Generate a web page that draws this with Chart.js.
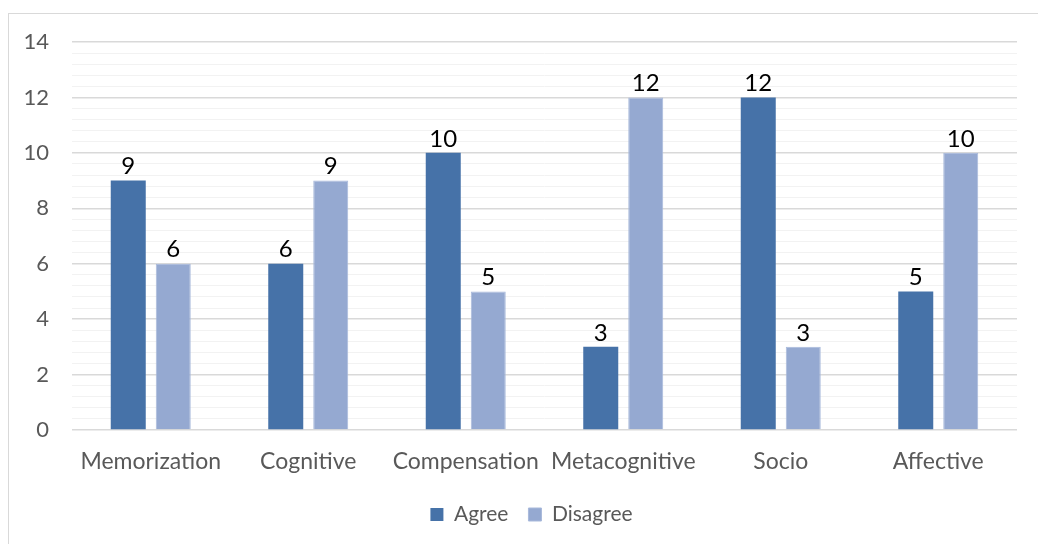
<!DOCTYPE html>
<html>
<head>
<meta charset="utf-8">
<script src="https://cdn.jsdelivr.net/npm/chart.js@4/dist/chart.umd.min.js"></script>
<style>
  html, body { margin: 0; padding: 0; background: #fff; }
  #wrap { position: relative; width: 1038px; height: 544px; }
  #frame { position: absolute; left: 8px; top: 13px; width: 1100px; height: 600px; border: 1px solid #d9d9d9; box-sizing: border-box; }
  canvas { position: absolute; left: 0; top: 0; }
</style>
</head>
<body>
<div id="wrap">
  <div id="frame"></div>
  <canvas id="c" width="1038" height="544"></canvas>
</div>
<script>
const categories = ["Memorization", "Cognitive", "Compensation", "Metacognitive", "Socio", "Affective"];
const agreeValues = [9, 6, 10, 3, 12, 5];
const disagreeValues = [6, 9, 5, 12, 3, 10];
const seriesNames = ["Agree", "Disagree"];
const yMax = 14;
const yMinorStep = 0.4;

const FONT = "Lato, 'Carlito', 'Liberation Sans', sans-serif";

const valueLabels = {
  id: 'valueLabels',
  afterDatasetsDraw(chart) {
    const ctx = chart.ctx;
    ctx.save();
    ctx.font = "24px " + FONT;
    ctx.fillStyle = "#000";
    ctx.textAlign = "center";
    ctx.textBaseline = "bottom";
    chart.data.datasets.forEach((ds, i) => {
      const meta = chart.getDatasetMeta(i);
      meta.data.forEach((bar, j) => {
        ctx.fillText(String(ds.data[j]), bar.x, bar.y - 2);
      });
    });
    ctx.restore();
  }
};

const legendShift = {
  id: 'legendShift',
  afterLayout(chart) {
    const l = chart.legend;
    if (l) { l.left += 23; l.right += 23; }
  }
};

function isMajor(v) {
  return Math.abs(v / 2 - Math.round(v / 2)) < 1e-6;
}

new Chart(document.getElementById('c'), {
  type: 'bar',
  data: {
    labels: categories,
    datasets: [
      { label: seriesNames[0], data: agreeValues, backgroundColor: '#4672a8', borderWidth: 0 },
      { label: seriesNames[1], data: disagreeValues, backgroundColor: '#95a9d1', borderColor: '#a8b9db', borderWidth: 1 }
    ]
  },
  options: {
    responsive: false,
    animation: false,
    devicePixelRatio: 1,
    layout: { padding: { top: 42, right: 21, bottom: 9, left: 0 } },
    categoryPercentage: 0.5714,
    barPercentage: 0.7778,
    plugins: {
      legend: {
        position: 'bottom',
        labels: {
          font: { family: FONT, size: 21 },
          color: '#595959',
          boxWidth: 13,
          boxHeight: 13,
          padding: 20
        }
      },
      tooltip: { enabled: false }
    },
    scales: {
      x: {
        grid: { display: false, drawTicks: false },
        border: { display: false },
        ticks: { font: { family: FONT, size: 23 }, color: '#595959', padding: 18, maxRotation: 0, autoSkip: false },
        afterFit(scale) { scale.height = 54; }
      },
      y: {
        min: 0,
        max: yMax,
        grid: {
          drawTicks: false,
          color: (ctx) => isMajor(ctx.tick.value) ? '#d9d9d9' : '#f2f2f2',
          lineWidth: (ctx) => isMajor(ctx.tick.value) ? 1.5 : 1
        },
        border: { display: false },
        ticks: {
          stepSize: yMinorStep,
          autoSkip: false,
          font: { family: FONT, size: 22 },
          color: '#595959',
          padding: 23,
          callback: (v) => isMajor(v) ? String(Math.round(v)) : ''
        },
        afterFit(scale) { scale.width = 72; }
      }
    }
  },
  plugins: [valueLabels, legendShift]
});
</script>
</body>
</html>
